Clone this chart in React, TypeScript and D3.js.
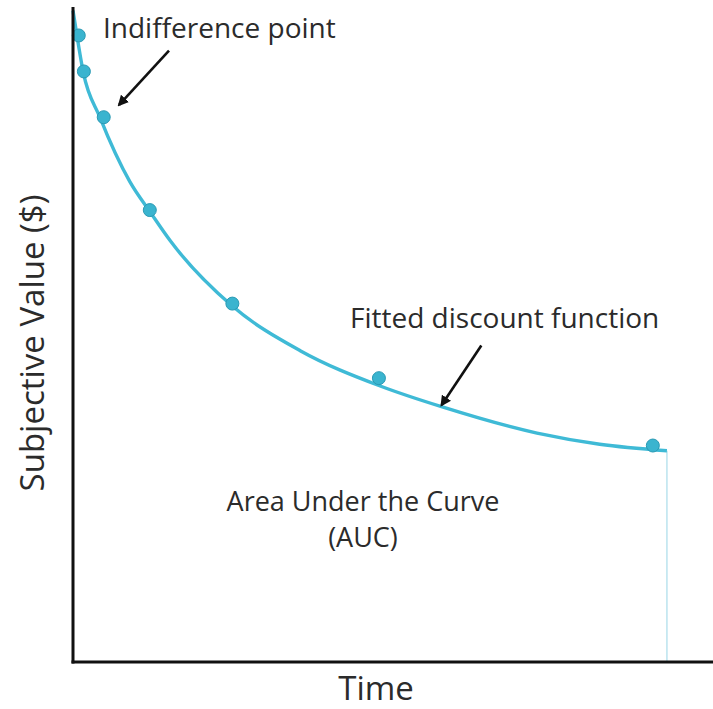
import React from "react";
import * as d3 from "d3";

// Fitted discount function (time %, value %)
const curveTime = [0, 0.5, 1.6, 4.2, 8.9, 12.2, 15.2, 24.8, 35.5, 48.0, 57.7, 72.5, 82.3, 92.8];
const curveValue = [99.6, 96.5, 90.2, 83.3, 73.4, 68.6, 64.4, 54.5, 47.6, 42.2, 39.0, 35.0, 33.3, 32.3];

// Indifference points
const pointTime = [0.9, 1.7, 4.8, 12.0, 24.9, 47.8, 90.6];
const pointValue = [95.8, 90.3, 83.3, 69.1, 54.8, 43.4, 33.1];

const WIDTH = 713;
const HEIGHT = 709;
const FONT = "'Open Sans', 'Noto Sans', sans-serif";
const TEXT = "#2b2b2b";

export default function App() {
  const x = d3.scaleLinear().domain([0, 100]).range([73, 713]);
  const y = d3.scaleLinear().domain([0, 100]).range([662, 8]);

  const curveData = curveTime.map((t, i) => [t, curveValue[i]] as [number, number]);
  const line = d3
    .line<[number, number]>()
    .x((d) => x(d[0]))
    .y((d) => y(d[1]))
    .curve(d3.curveMonotoneX);

  const endT = curveTime[curveTime.length - 1];
  const endV = curveValue[curveValue.length - 1];

  return (
    <svg
      width={WIDTH}
      height={HEIGHT}
      style={{ position: "absolute", left: 0, top: 0, background: "#fff" }}
    >
      <defs>
        <marker id="ah" viewBox="0 0 10 10" refX="8" refY="5" markerWidth="4.2" markerHeight="4.2" orient="auto">
          <path d="M0,0 L10,5 L0,10 z" fill="#111" />
        </marker>
      </defs>

      {/* AUC right boundary */}
      <line x1={x(endT)} x2={x(endT)} y1={y(endV)} y2={y(0)} stroke="#bfe5f0" strokeWidth={1.6} />

      {/* fitted curve */}
      <path d={line(curveData) || ""} fill="none" stroke="#3fbad6" strokeWidth={3.4} />

      {/* points */}
      {pointTime.map((t, i) => (
        <circle key={i} cx={x(t)} cy={y(pointValue[i])} r={6.5} fill="#3ab4cf" stroke="#2a9ab4" strokeWidth={1} />
      ))}

      {/* axes */}
      <line x1={x(0)} x2={x(0)} y1={y(100) - 1} y2={y(0) + 1.5} stroke="#111" strokeWidth={3} />
      <line x1={x(0) - 1.5} x2={x(100)} y1={y(0)} y2={y(0)} stroke="#111" strokeWidth={3} />

      {/* annotations */}
      <text x={103} y={38} fontFamily={FONT} fontSize={28} fill={TEXT}>Indifference point</text>
      <line x1={x(15.0)} x2={x(7.2)} y1={y(93.5)} y2={y(85.2)} stroke="#111" strokeWidth={2.6} markerEnd="url(#ah)" />

      <text x={350} y={328} fontFamily={FONT} fontSize={28} fill={TEXT}>Fitted discount function</text>
      <line x1={x(63.8)} x2={x(57.6)} y1={y(48.4)} y2={y(39.3)} stroke="#111" strokeWidth={2.6} markerEnd="url(#ah)" />

      <text x={363} y={511} textAnchor="middle" fontFamily={FONT} fontSize={27} fill={TEXT}>Area Under the Curve</text>
      <text x={363} y={547} textAnchor="middle" fontFamily={FONT} fontSize={27} fill={TEXT}>(AUC)</text>

      <text x={376} y={700} textAnchor="middle" fontFamily={FONT} fontSize={33} fill={TEXT}>Time</text>
      <text
        transform={`translate(44,343) rotate(-90)`}
        textAnchor="middle"
        fontFamily={FONT}
        fontSize={33}
        fill={TEXT}
      >
        Subjective Value ($)
      </text>
    </svg>
  );
}
